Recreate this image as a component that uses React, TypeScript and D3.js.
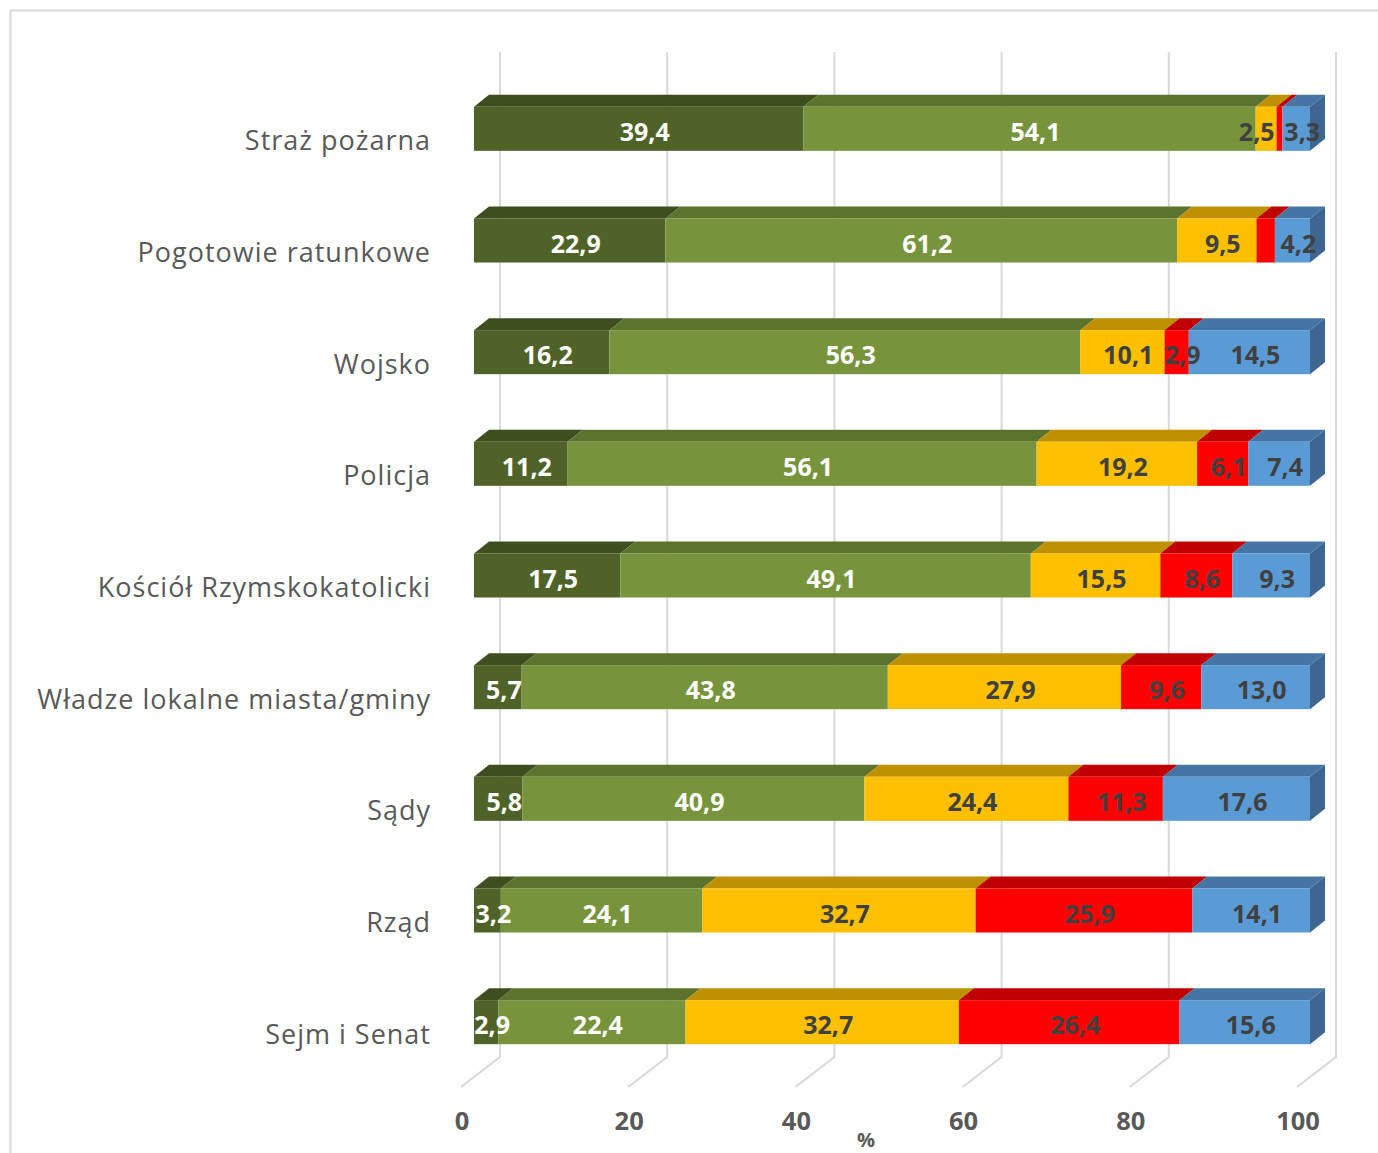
import React from "react";
import * as d3 from "d3";

const categories = [
  "Straż pożarna",
  "Pogotowie ratunkowe",
  "Wojsko",
  "Policja",
  "Kościół Rzymskokatolicki",
  "Władze lokalne miasta/gminy",
  "Sądy",
  "Rząd",
  "Sejm i Senat",
];

const s1 = [39.4, 22.9, 16.2, 11.2, 17.5, 5.7, 5.8, 3.2, 2.9];
const s2 = [54.1, 61.2, 56.3, 56.1, 49.1, 43.8, 40.9, 24.1, 22.4];
const s3 = [2.5, 9.5, 10.1, 19.2, 15.5, 27.9, 24.4, 32.7, 32.7];
const s4 = [0.7, 2.2, 2.9, 6.1, 8.6, 9.6, 11.3, 25.9, 26.4];
const s5 = [3.3, 4.2, 14.5, 7.4, 9.3, 13.0, 17.6, 14.1, 15.6];

// labels not shown in the reference: [categoryIndex, seriesIndex]
const hiddenLabels = [
  [0, 3],
  [1, 3],
];

const ticks = [0, 20, 40, 60, 80, 100];

const seriesList = [s1, s2, s3, s4, s5];
const frontColors = ["#4F6228", "#77933C", "#FFC000", "#FF0000", "#5B9BD5"];
const topColors = ["#3E4E1F", "#5C732E", "#BF9000", "#C00000", "#4576A3"];
const sideColors = ["#3A491C", "#56692B", "#B08500", "#B00000", "#3E6690"];
const labelColors = ["#FFFFFF", "#FFFFFF", "#404040", "#404040", "#404040"];

const W = 1378;
const H = 1153;
const FONT = "'Open Sans', 'Noto Sans', sans-serif";
const LABEL_SIZE = 25;

export default function App() {
  const x = d3.scaleLinear().domain([0, 100]).range([461, 1297]);
  const y = d3
    .scaleBand<string>()
    .domain(categories)
    .range([82, 1087])
    .paddingInner(0)
    .paddingOuter(0);

  const depthX = 39;
  const depthY = -30;
  const barOffX = 13;
  const barDX = 15;
  const barDY = -12;
  const barH = 44;
  const floorY = 1087;
  const backTop = 52;

  const fmt = (v: number) => d3.format(".1f")(v).replace(".", ",");

  const stacked = categories.map((_, i) => {
    let acc = 0;
    return seriesList.map((s, k) => {
      const v0 = acc;
      acc += s[i];
      return { k, v0, v1: acc, v: s[i] };
    });
  });

  const isHidden = (i: number, k: number) =>
    hiddenLabels.some(([a, b]) => a === i && b === k);

  // label positions with simple overlap avoidance (shift left)
  const labelPos = stacked.map((segs, i) => {
    const arr = segs.map((sg) => ({
      k: sg.k,
      v: sg.v,
      hidden: isHidden(i, sg.k),
      cx: (x(sg.v0) + x(sg.v1)) / 2 + barOffX + 6,
      w: fmt(sg.v).length * LABEL_SIZE * 0.5,
    }));
    const vis = arr.filter((a) => !a.hidden);
    for (let j = vis.length - 2; j >= 0; j--) {
      const a = vis[j];
      const b = vis[j + 1];
      const minDist = (a.w + b.w) / 2 + 8;
      if (b.cx - a.cx < minDist) a.cx = b.cx - minDist;
    }
    return arr;
  });

  return (
    <svg
      width={W}
      height={H}
      style={{ position: "absolute", left: 0, top: 0, background: "#fff" }}
    >
      <rect x={0} y={0} width={W} height={H} fill="#fff" />
      <path d={`M10.5,${H} L10.5,10.5 L${W},10.5`} fill="none" stroke="#D9D9D9" strokeWidth={2} />

      {ticks.map((t) => {
        const fx = x(t);
        const bx = fx + depthX;
        return (
          <path
            key={t}
            d={`M${bx},${backTop} L${bx},${floorY + depthY} L${fx},${floorY}`}
            fill="none"
            stroke="#D9D9D9"
            strokeWidth={2}
          />
        );
      })}

      {categories.map((c, i) => {
        const cy = (y(c) as number) + y.bandwidth() / 2;
        const fTop = cy - 9 - barH / 2;
        const fBot = fTop + barH;
        const segs = stacked[i];
        return (
          <g key={c}>
            {segs.map((sg, j) => {
              const xa = x(sg.v0) + barOffX;
              const xb = x(sg.v1) + barOffX;
              const top = `M${xa},${fTop} L${xb},${fTop} L${xb + barDX},${fTop + barDY} L${xa + barDX},${fTop + barDY} Z`;
              const side = `M${xb},${fTop} L${xb + barDX},${fTop + barDY} L${xb + barDX},${fBot + barDY} L${xb},${fBot} Z`;
              return (
                <g key={j}>
                  <path d={top} fill={topColors[sg.k]} />
                  {j === segs.length - 1 && <path d={side} fill={sideColors[sg.k]} />}
                  <rect x={xa} y={fTop} width={Math.max(0, xb - xa)} height={barH} fill={frontColors[sg.k]} />
                </g>
              );
            })}
            {labelPos[i].map((lp, j) =>
              lp.hidden ? null : (
                <text
                  key={"l" + j}
                  x={lp.cx}
                  y={fTop + barH / 2 + 2}
                  textAnchor="middle"
                  dominantBaseline="central"
                  fontFamily={FONT}
                  fontWeight="bold"
                  fontSize={LABEL_SIZE}
                  fill={labelColors[lp.k]}
                >
                  {fmt(lp.v)}
                </text>
              )
            )}
            <text
              x={431}
              y={cy + 2}
              textAnchor="end"
              dominantBaseline="central"
              fontFamily={FONT}
              fontSize={27}
              letterSpacing={1}
              fill="#595959"
            >
              {c}
            </text>
          </g>
        );
      })}

      {ticks.map((t) => (
        <text
          key={"t" + t}
          x={x(t) + 1}
          y={1120}
          textAnchor="middle"
          dominantBaseline="central"
          fontFamily={FONT}
          fontWeight="bold"
          fontSize={25.5}
          fill="#595959"
        >
          {t}
        </text>
      ))}
      <text
        x={866}
        y={1139}
        textAnchor="middle"
        dominantBaseline="central"
        fontFamily={FONT}
        fontWeight="bold"
        fontSize={20}
        fill="#595959"
      >
        %
      </text>
    </svg>
  );
}
